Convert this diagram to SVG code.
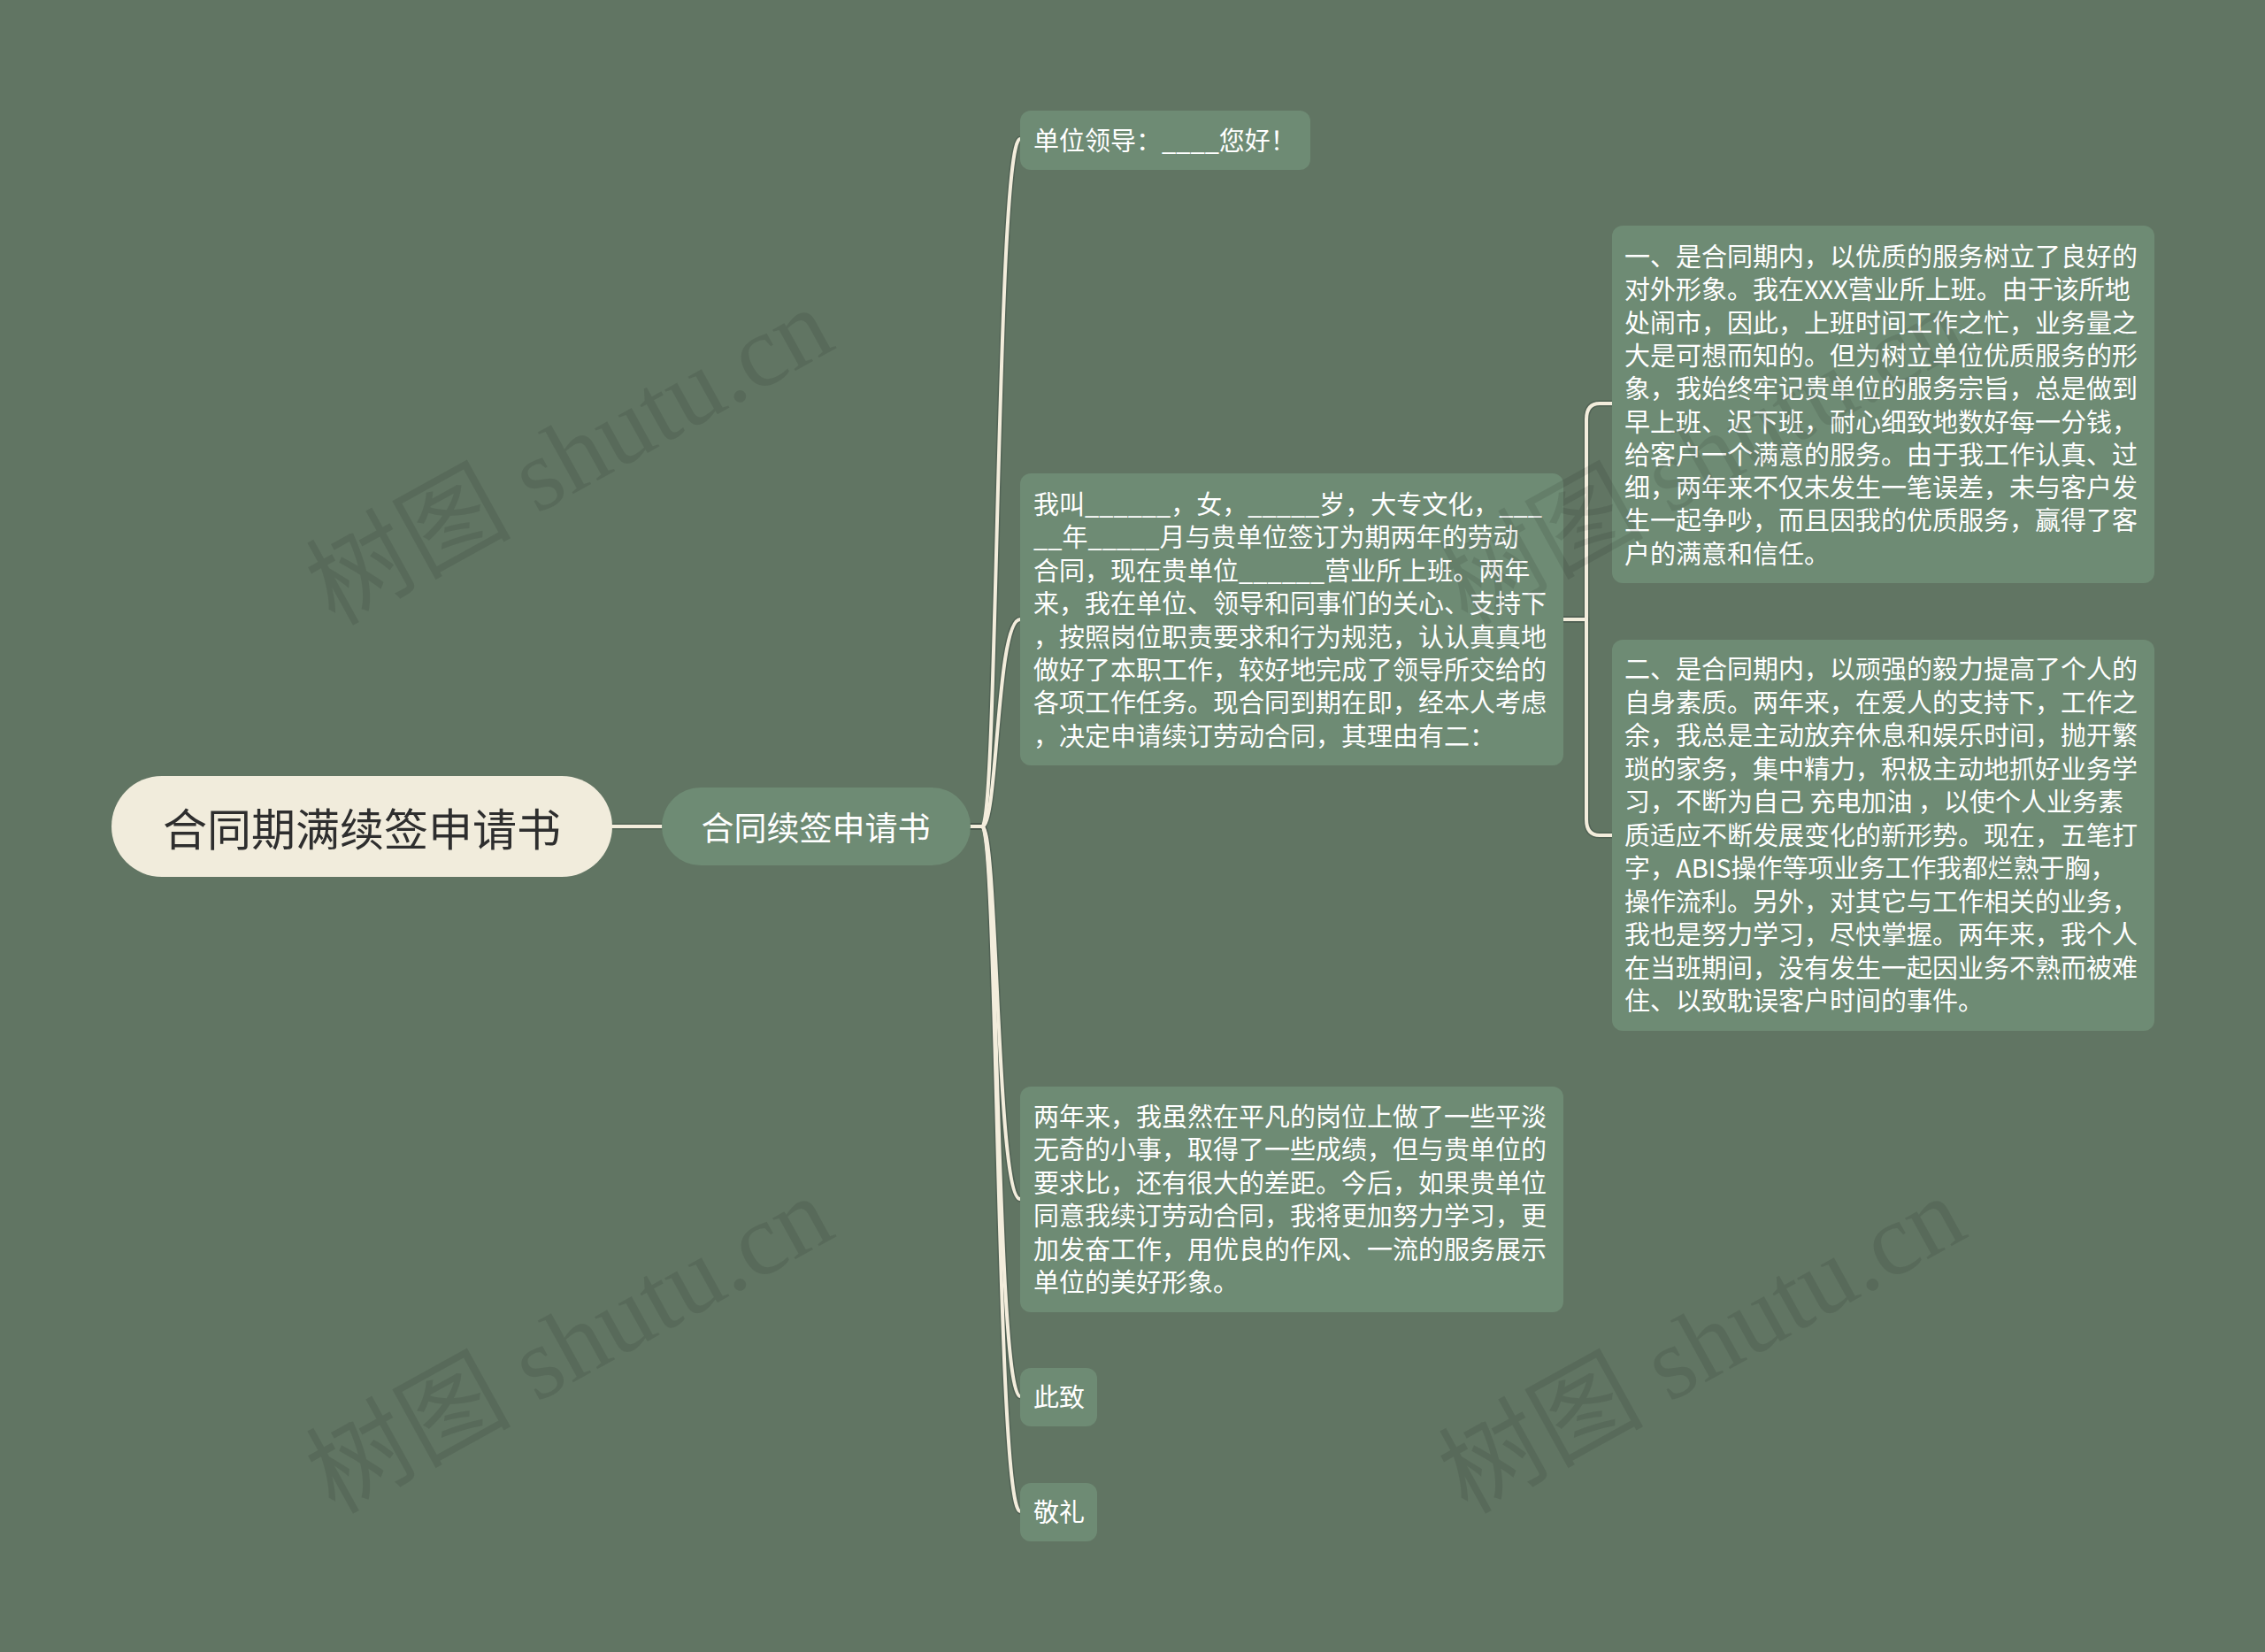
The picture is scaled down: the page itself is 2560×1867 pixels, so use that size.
<svg xmlns="http://www.w3.org/2000/svg" width="2560" height="1867" viewBox="0 0 2560 1867">
<defs>
<style>
.bg{fill:#617563}
.box{fill:#6e8b74}
.root{fill:#f1ecdc}
.t{font-family:"Noto Sans CJK SC","Noto Sans",sans-serif;fill:#ffffff;font-size:29px}
.rt{font-family:"Noto Sans CJK SC","Noto Sans",sans-serif;fill:#2e2e2e;font-size:50px}
.mt{font-family:"Noto Sans CJK SC","Noto Sans",sans-serif;fill:#ffffff;font-size:37px}
.sh{fill:none;stroke:#45544a;stroke-width:7;stroke-opacity:.55;stroke-linecap:round;stroke-linejoin:round}
.ln{fill:none;stroke:#f3eddc;stroke-width:4;stroke-linecap:round;stroke-linejoin:round}
.wm{font-family:"Liberation Serif","Noto Sans CJK SC",serif;font-size:116px;fill:#000;fill-opacity:.09}
</style>
<path id="c0" d="M692 934H748"/>
<path id="c1" d="M1097 934H1110C1128 934 1126 157 1153 157"/>
<path id="c2" d="M1097 934H1110C1128 934 1126 700 1153 700"/>
<path id="c3" d="M1097 934H1110C1128 934 1126 1355 1153 1355"/>
<path id="c4" d="M1097 934H1110C1128 934 1126 1578 1153 1578"/>
<path id="c5" d="M1097 934H1110C1128 934 1126 1708 1153 1708"/>
<path id="c6" d="M1767 700H1793V474Q1793 456 1808 456H1822"/>
<path id="c7" d="M1767 700H1793V926Q1793 944 1808 944H1822"/>
</defs>
<rect class="bg" x="0" y="0" width="2560" height="1867"/>

<g id="connectors">
<use href="#c0" class="sh"/><use href="#c1" class="sh"/><use href="#c2" class="sh"/><use href="#c3" class="sh"/><use href="#c4" class="sh"/><use href="#c5" class="sh"/><use href="#c6" class="sh"/><use href="#c7" class="sh"/>
<use href="#c0" class="ln"/><use href="#c1" class="ln"/><use href="#c2" class="ln"/><use href="#c3" class="ln"/><use href="#c4" class="ln"/><use href="#c5" class="ln"/><use href="#c6" class="ln"/><use href="#c7" class="ln"/>
</g>

<g id="root">
<rect class="root" x="126" y="877" width="566" height="114" rx="57"/>
<text class="rt" x="409" y="934" text-anchor="middle" dominant-baseline="central">合同期满续签申请书</text>
</g>

<g id="main">
<rect class="box" x="748" y="890" width="349" height="88" rx="44"/>
<text class="mt" x="922" y="934" text-anchor="middle" dominant-baseline="central">合同续签申请书</text>
</g>

<g id="n1">
<rect class="box" x="1153" y="125" width="328" height="67" rx="12"/>
<text class="t" x="1168" y="170">单位领导：____您好！</text>
</g>

<g id="n2">
<rect class="box" x="1153" y="535" width="614" height="330" rx="12"/>
<text class="t">
<tspan x="1168" y="581">我叫______，女，_____岁，大专文化，___</tspan>
<tspan x="1168" y="618.4">__年_____月与贵单位签订为期两年的劳动</tspan>
<tspan x="1168" y="655.8">合同，现在贵单位______营业所上班。两年</tspan>
<tspan x="1168" y="693.2">来，我在单位、领导和同事们的关心、支持下</tspan>
<tspan x="1168" y="730.6">，按照岗位职责要求和行为规范，认认真真地</tspan>
<tspan x="1168" y="768">做好了本职工作，较好地完成了领导所交给的</tspan>
<tspan x="1168" y="805.4">各项工作任务。现合同到期在即，经本人考虑</tspan>
<tspan x="1168" y="842.8">，决定申请续订劳动合同，其理由有二：</tspan>
</text>
</g>

<g id="n3">
<rect class="box" x="1153" y="1228" width="614" height="255" rx="12"/>
<text class="t">
<tspan x="1168" y="1273">两年来，我虽然在平凡的岗位上做了一些平淡</tspan>
<tspan x="1168" y="1310.4">无奇的小事，取得了一些成绩，但与贵单位的</tspan>
<tspan x="1168" y="1347.8">要求比，还有很大的差距。今后，如果贵单位</tspan>
<tspan x="1168" y="1385.2">同意我续订劳动合同，我将更加努力学习，更</tspan>
<tspan x="1168" y="1422.6">加发奋工作，用优良的作风、一流的服务展示</tspan>
<tspan x="1168" y="1460">单位的美好形象。</tspan>
</text>
</g>

<g id="n4">
<rect class="box" x="1153" y="1546" width="87" height="66" rx="12"/>
<text class="t" x="1168" y="1590">此致</text>
</g>

<g id="n5">
<rect class="box" x="1153" y="1676" width="87" height="66" rx="12"/>
<text class="t" x="1168" y="1720">敬礼</text>
</g>

<g id="n6">
<rect class="box" x="1822" y="255" width="613" height="404" rx="12"/>
<text class="t">
<tspan x="1836" y="301">一、是合同期内，以优质的服务树立了良好的</tspan>
<tspan x="1836" y="338.3">对外形象。我在XXX营业所上班。由于该所地</tspan>
<tspan x="1836" y="375.6">处闹市，因此，上班时间工作之忙，业务量之</tspan>
<tspan x="1836" y="412.9">大是可想而知的。但为树立单位优质服务的形</tspan>
<tspan x="1836" y="450.2">象，我始终牢记贵单位的服务宗旨，总是做到</tspan>
<tspan x="1836" y="487.5">早上班、迟下班，耐心细致地数好每一分钱，</tspan>
<tspan x="1836" y="524.8">给客户一个满意的服务。由于我工作认真、过</tspan>
<tspan x="1836" y="562.1">细，两年来不仅未发生一笔误差，未与客户发</tspan>
<tspan x="1836" y="599.4">生一起争吵，而且因我的优质服务，赢得了客</tspan>
<tspan x="1836" y="636.7">户的满意和信任。</tspan>
</text>
</g>

<g id="n7">
<rect class="box" x="1822" y="723" width="613" height="442" rx="12"/>
<text class="t">
<tspan x="1836" y="767">二、是合同期内，以顽强的毅力提高了个人的</tspan>
<tspan x="1836" y="804.5">自身素质。两年来，在爱人的支持下，工作之</tspan>
<tspan x="1836" y="842">余，我总是主动放弃休息和娱乐时间，抛开繁</tspan>
<tspan x="1836" y="879.5">琐的家务，集中精力，积极主动地抓好业务学</tspan>
<tspan x="1836" y="917">习，不断为自己 充电加油 ，以使个人业务素</tspan>
<tspan x="1836" y="954.5">质适应不断发展变化的新形势。现在，五笔打</tspan>
<tspan x="1836" y="992">字，ABIS操作等项业务工作我都烂熟于胸，</tspan>
<tspan x="1836" y="1029.5">操作流利。另外，对其它与工作相关的业务，</tspan>
<tspan x="1836" y="1067">我也是努力学习，尽快掌握。两年来，我个人</tspan>
<tspan x="1836" y="1104.5">在当班期间，没有发生一起因业务不熟而被难</tspan>
<tspan x="1836" y="1142">住、以致耽误客户时间的事件。</tspan>
</text>
</g>

<g id="watermarks">
<text class="wm" x="378" y="708" transform="rotate(-29 378 708)">树图 shutu.cn</text>
<text class="wm" x="378" y="1712" transform="rotate(-29 378 1712)">树图 shutu.cn</text>
<text class="wm" x="1658" y="708" transform="rotate(-29 1658 708)">树图 shutu.cn</text>
<text class="wm" x="1658" y="1712" transform="rotate(-29 1658 1712)">树图 shutu.cn</text>
</g>
</svg>
